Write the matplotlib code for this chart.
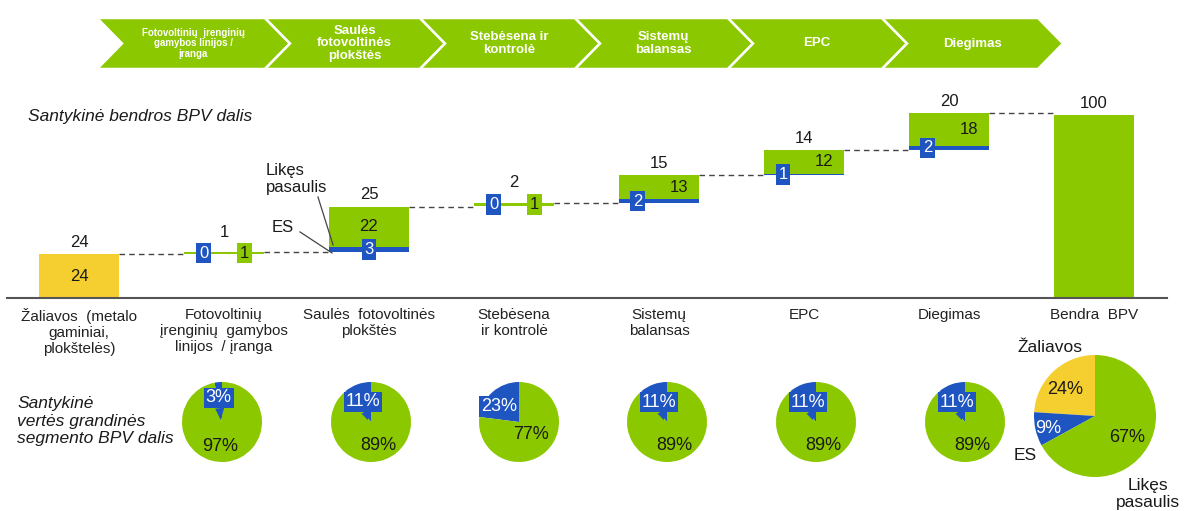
import matplotlib
matplotlib.use('Agg')
import matplotlib.pyplot as plt
from matplotlib.patches import Polygon
import numpy as np

plt.rcParams['font.family'] = ['Liberation Sans', 'DejaVu Sans']

GREEN = '#8CC800'
YELLOW = '#F5CF2F'
BLUE = '#1F55C0'
DARK = '#1a1a1a'

# ---------------- data ----------------
stages = ['Fotovoltinių  įrenginių\ngamybos linijos /\nįranga', 'Saulės\nfotovoltinės\nplokštės',
          'Stebėsena ir\nkontrolė', 'Sistemų\nbalansas', 'EPC', 'Diegimas']
categories = ['Žaliavos  (metalo\ngaminiai,\nplokštelės)', 'Fotovoltinių\nįrenginių  gamybos\nlinijos  / įranga',
              'Saulės  fotovoltinės\nplokštės', 'Stebėsena\nir kontrolė', 'Sistemų\nbalansas', 'EPC',
              'Diegimas', 'Bendra  BPV']
totals = [24, 1, 25, 2, 15, 14, 20]
es_values = [0, 0, 3, 0, 2, 1, 2]
rest_values = [24, 1, 22, 1, 13, 12, 18]
grand_total = 100
segment_es_share = [3, 11, 23, 11, 11, 11]
segment_rest_share = [97, 89, 77, 89, 89, 89]
overall_labels = ['Žaliavos', 'ES', 'Likęs\npasaulis']
overall_share = [24, 9, 67]

FW, FH = 1185, 511
fig = plt.figure(figsize=(FW / 100, FH / 100), dpi=100)

# ---------------- chevron banner ----------------
bax = fig.add_axes([0, 0, 1, 1])
bax.set_xlim(0, FW)
bax.set_ylim(FH, 0)
bax.axis('off')
starts = [97, 265, 420, 575, 728, 882]
ends = starts[1:] + [1038]
top, bot, mid, d = 18, 69, 43.5, 25
stage_fs = [7, 9.5, 9.5, 9.5, 9.5, 9.5]
stage_ls = [1.05, 1.0, 1.1, 1.1, 1.1, 1.1]
for s, e, lab, fs, ls in zip(starts, ends, stages, stage_fs, stage_ls):
    poly = Polygon([(s, top), (e, top), (e + d, mid), (e, bot), (s, bot), (s + d, mid)],
                   closed=True, fc=GREEN, ec='white', lw=1.8)
    bax.add_patch(poly)
    bax.text((s + e) / 2 + 12, mid, lab, ha='center', va='center', color='white',
             fontsize=fs, fontweight='bold', linespacing=ls)

fig.text(28 / FW, 1 - 117 / FH, 'Santykinė bendros BPV dalis', style='italic',
         fontsize=12.5, va='center', color=DARK)

# ---------------- waterfall ----------------
px_per_unit = 1.83
ax = fig.add_axes([0, 1 - 298 / FH, 1, (298 - 80) / FH])
ax.set_xlim(-79 / 145, (FW - 79) / 145)
ax.set_ylim(0, (298 - 80) / px_per_unit)
for sp in ['top', 'right', 'left']:
    ax.spines[sp].set_visible(False)
ax.spines['bottom'].set_bounds(-0.5, 7.5)
ax.spines['bottom'].set_color('#555555')
ax.spines['bottom'].set_linewidth(1.5)
ax.set_yticks([])
x = np.arange(len(categories))
ax.set_xticks(x)
ax.set_xticklabels(categories, fontsize=11, color='#222222')
ax.tick_params(axis='x', length=0, pad=7)
W = 0.55

cum = np.cumsum(totals)
bottoms = np.concatenate([[0], cum[:-1]])

box_kw = dict(boxstyle='square,pad=0.17', ec='none')
ax.bar(0, totals[0], W, color=YELLOW)
ax.text(0, totals[0] / 2, str(rest_values[0]), ha='center', va='center', fontsize=12, color=DARK)
ax.annotate(str(totals[0]), (0, cum[0]), xytext=(0, 3), textcoords='offset points',
            ha='center', va='bottom', fontsize=12, color=DARK)

for i in range(1, 7):
    tot, es, rest, b = totals[i], es_values[i], rest_values[i], bottoms[i]
    ax.bar(i, es, W, bottom=b, color=BLUE)
    ax.bar(i, tot - es, W, bottom=b + es, color=GREEN)
    if tot <= 2:
        yl = b + tot / 2
        ax.text(i - 0.14, yl, str(es), ha='center', va='center', fontsize=12, color='white',
                bbox=dict(fc=BLUE, **box_kw))
        ax.text(i + 0.14, yl, str(rest), ha='center', va='center', fontsize=12, color=DARK,
                bbox=dict(fc=GREEN, **box_kw))
        off = 9
    else:
        dxb, dxr = (0, 0) if i == 2 else (-0.145, 0.14)
        ax.text(i + dxb, b + es / 2, str(es), ha='center', va='center', fontsize=12, color='white',
                bbox=dict(fc=BLUE, **box_kw))
        ax.text(i + dxr, b + es + (tot - es) / 2, str(rest), ha='center', va='center',
                fontsize=12, color=DARK)
        off = 3
    ax.annotate(str(tot), (i, cum[i]), xytext=(0, off), textcoords='offset points',
                ha='center', va='bottom', fontsize=12, color=DARK)

ax.bar(7, grand_total, W, color=GREEN)
ax.annotate(str(grand_total), (7, grand_total), xytext=(0, 3), textcoords='offset points',
            ha='center', va='bottom', fontsize=12, color=DARK)

for i in range(7):
    ax.plot([i + W / 2, i + 1 - W / 2], [cum[i], cum[i]], ls=(0, (4, 3)), color='#444444', lw=1)

# leader labels on Saulės bar
ax.text(1.29, 65, 'Likęs\npasaulis', ha='left', va='center', fontsize=12, color=DARK,
        linespacing=1.1)
ax.plot([1.648, 1.752], [55.2, 29.0], color='#444444', lw=0.9)
ax.text(1.407, 38.3, 'ES', ha='center', va='center', fontsize=12, color=DARK)
ax.plot([1.524, 1.745], [36.1, 24.6], color='#444444', lw=0.9)

# ---------------- pies ----------------
fig.text(17 / FW, 1 - 421 / FH, 'Santykinė\nvertės grandinės\nsegmento BPV dalis', style='italic',
         fontsize=12.5, va='center', color=DARK, linespacing=1.2)

pie_cx = [222, 371, 519, 667, 816, 965]
pie_cy, r = 422, 40
box_pos = {3: (-0.08, 0.6), 11: (-0.2, 0.5), 23: (-0.5, 0.38)}
txt_pos = {3: (-0.05, -0.62), 11: (0.18, -0.58), 23: (0.3, -0.32)}
PFS = 13
for cx, es, rest in zip(pie_cx, segment_es_share, segment_rest_share):
    pax = fig.add_axes([(cx - r) / FW, 1 - (pie_cy + r) / FH, 2 * r / FW, 2 * r / FH])
    pax.pie([es, rest], colors=[BLUE, GREEN], startangle=90, counterclock=True,
            wedgeprops=dict(linewidth=0))
    pax.set_xlim(-1, 1)
    pax.set_ylim(-1, 1)
    bx, by = box_pos[es]
    if es < 20:
        pax.annotate(f'{es}%', xy=(bx * 0.4, 0.05), xytext=(bx, by), ha='center', va='center',
                     fontsize=PFS, color='white', bbox=dict(boxstyle='square,pad=0.1', fc=BLUE, ec='none'),
                     arrowprops=dict(arrowstyle='wedge,tail_width=0.5', fc=BLUE, ec='none',
                                     shrinkA=0, shrinkB=0))
    else:
        pax.text(bx, by, f'{es}%', ha='center', va='center', fontsize=PFS, color='white',
                 bbox=dict(boxstyle='square,pad=0.1', fc=BLUE, ec='none'))
    tx, ty = txt_pos[es]
    pax.text(tx, ty, f'{rest}%', ha='center', va='center', fontsize=PFS, color=DARK)

bcx, bcy, br = 1095, 416, 61
pax = fig.add_axes([(bcx - br) / FW, 1 - (bcy + br) / FH, 2 * br / FW, 2 * br / FH])
pax.pie(overall_share, colors=[YELLOW, BLUE, GREEN], startangle=90, counterclock=True,
        wedgeprops=dict(linewidth=0))
pax.set_xlim(-1, 1)
pax.set_ylim(-1, 1)
pct_pos = [(-0.49, 0.44), (-0.77, -0.2), (0.52, -0.36)]
pct_col = [DARK, 'white', DARK]
lab_pos = [(-0.74, 1.13), (-1.15, -0.64), (0.87, -1.28)]
for v, (px_, py_), c, lab, (lx, ly) in zip(overall_share, pct_pos, pct_col, overall_labels, lab_pos):
    pax.text(px_, py_, f'{v}%', ha='center', va='center', fontsize=PFS, color=c)
    pax.text(lx, ly, lab, ha='center', va='center', fontsize=12.5, color=DARK, linespacing=1.15)

fig.savefig('out.png', dpi=100)
